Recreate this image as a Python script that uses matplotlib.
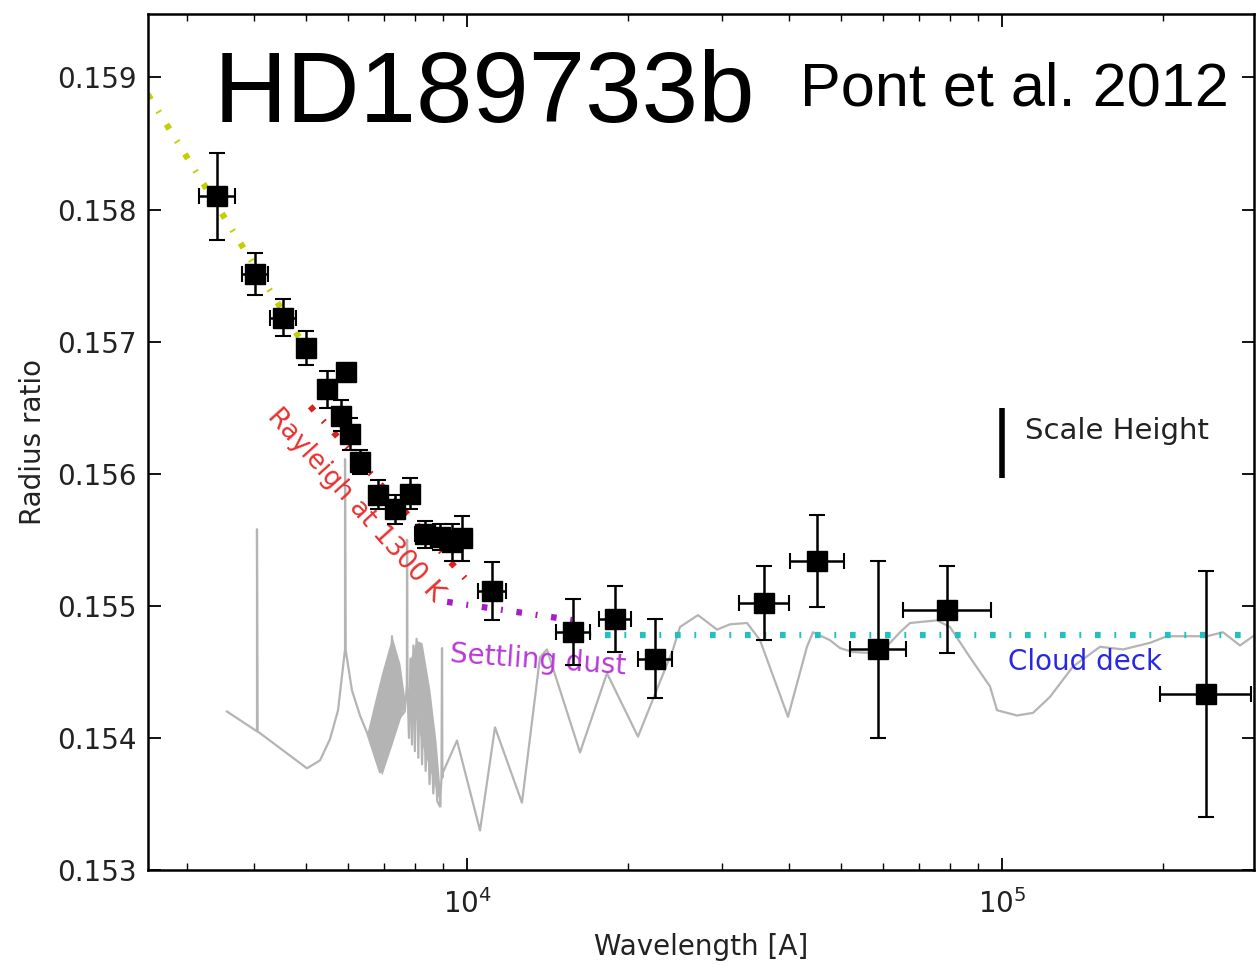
import matplotlib
matplotlib.use('Agg')
import matplotlib.pyplot as plt
import numpy as np

# measured transmission spectrum (wavelength in A, radius ratio)
wl = [3412, 4018, 4530, 4998, 5469, 5941, 5823, 6043, 6310, 6817, 7334, 7823,
      8345, 8904, 9376, 9797, 11137, 15781, 18924, 22439, 35891, 45080, 58620,
      78840, 240400]
rr = [0.15810, 0.15751, 0.15718, 0.15695, 0.15664, 0.15677, 0.15644, 0.15630,
      0.15609, 0.15584, 0.15573, 0.15585, 0.15554, 0.15552, 0.15548, 0.15551,
      0.15511, 0.15480, 0.15490, 0.15460, 0.15502, 0.15534, 0.15467, 0.15497,
      0.15433]
rr_err = [0.00033, 0.00016, 0.00014, 0.00013, 0.00014, 0.00005, 0.00012, 0.00012,
          0.00009, 0.00011, 0.00011, 0.00012, 0.00010, 0.00010, 0.00014, 0.00017,
          0.00022, 0.00025, 0.00025, 0.00030, 0.00028, 0.00035, 0.00067, 0.00033,
          0.00093]
wl_lo = [3158, 3799, 4283, 4998, 5469, 5941, 5823, 6043, 6310, 6817, 7334, 7823,
         7990, 8530, 8980, 9390, 10487, 14640, 17670, 20850, 32220, 40140, 51970,
         65260, 197700]
wl_hi = [3687, 4249, 4791, 4998, 5469, 5941, 5823, 6043, 6310, 6817, 7334, 7823,
         8710, 9290, 9790, 10220, 11827, 17010, 20270, 24150, 39980, 50620, 66120,
         95240, 292300]

# model spectrum (grey)
spec_wl = [3559, 4050, 4050, 4060, 5022, 5312, 5544, 5741, 5916, 5916, 5930,
           6095, 6310, 6504, 6877,
           6920, 6960, 7000, 7040, 7080, 7120, 7160, 7200, 7241, 7280, 7330, 7380,
           7430, 7480, 7650, 7720, 7726, 7740,
           7790, 7840, 7890, 7940, 7990, 8050, 8110, 8170, 8241, 8300, 8370, 8440,
           8510, 8580, 8650, 8720, 8800, 8901, 8960, 8981, 8995,
           9018, 9579, 10576, 11281, 12669, 13690, 14109, 16265, 18267, 20873,
           24266, 25010, 27025, 29330, 31014, 33376, 35295, 39811, 43200, 44330,
           47700, 49800, 52660, 59160, 64480, 67300, 75590, 79930, 87120, 94970,
           97880, 106700, 114300, 122900, 135700, 152500, 168400, 189100, 203400,
           241600, 258900, 278600, 294600]
spec_rr = [0.15420, 0.15405, 0.15558, 0.15405, 0.15377, 0.15383, 0.15399, 0.15421,
           0.15467, 0.15611, 0.15467, 0.15436, 0.15417, 0.15404, 0.15374,
           0.15410, 0.15382, 0.15425, 0.15390, 0.15440, 0.15395, 0.15455, 0.15405,
           0.15477, 0.15410, 0.15460, 0.15420, 0.15440, 0.15415, 0.15420, 0.15440,
           0.15550, 0.15440,
           0.15400, 0.15460, 0.15395, 0.15470, 0.15390, 0.15475, 0.15385, 0.15460,
           0.15380, 0.15440, 0.15375, 0.15420, 0.15365, 0.15400, 0.15358, 0.15385,
           0.15352, 0.15348, 0.15370, 0.15468, 0.15370,
           0.15374, 0.15398, 0.15330, 0.15408, 0.15351, 0.15461, 0.15467, 0.15389,
           0.15449, 0.15401, 0.15467, 0.15484, 0.15493, 0.15482, 0.15486, 0.15487,
           0.15474, 0.15416, 0.15469, 0.15480, 0.15474, 0.15468, 0.15465, 0.15464,
           0.15480, 0.15487, 0.15489, 0.15484, 0.15461, 0.15439, 0.15421, 0.15417,
           0.15419, 0.15431, 0.15454, 0.15469, 0.15467, 0.15472, 0.15477, 0.15477,
           0.15480, 0.15470, 0.15477]

# dense line forests in the model spectrum (upper / lower envelopes)
forest1_wl = [6504, 6730, 6934, 7241, 7496, 7657]
forest1_hi = [0.15404, 0.15429, 0.15450, 0.15477, 0.15456, 0.15429]
forest1_lo = [0.15404, 0.15383, 0.15372, 0.15395, 0.15414, 0.15425]
forest2_wl = [7822, 8033, 8241, 8527, 8750, 8940]
forest2_hi = [0.15459, 0.15474, 0.15472, 0.15436, 0.15398, 0.15353]
forest2_lo = [0.15429, 0.15414, 0.15395, 0.15376, 0.15361, 0.15347]

# model lines
ray_hot_wl, ray_hot_rr = [2533, 4998], [0.15887, 0.15695]
ray_wl, ray_rr = [5092, 9914], [0.15651, 0.15521]
dust_wl, dust_rr = [9180, 16490], [0.15503, 0.15488]
cloud_wl, cloud_rr = [15600, 295800], [0.15478, 0.15478]

scale_wl = 1.0e5
scale_rr = [0.15597, 0.15650]

fig = plt.figure(figsize=(12.58, 9.65), dpi=100)
ax = fig.add_axes([0.1176, 0.0984, 0.8792, 0.8871])

grey = '#b4b4b4'
ax.plot(spec_wl, spec_rr, color=grey, lw=1.6, zorder=1)
ax.fill_between(forest1_wl, forest1_lo, forest1_hi, color=grey, lw=0, zorder=1)
ax.fill_between(forest2_wl, forest2_lo, forest2_hi, color=grey, lw=0, zorder=1)

dash = (0, (0.9, 2.2, 0.3, 2.2))
ax.plot(ray_hot_wl, ray_hot_rr, color='#c2d000', lw=4.5, linestyle=dash, zorder=2)
ax.plot(ray_wl, ray_rr, color='#e02020', lw=4.5, linestyle=dash, zorder=2)
ax.plot(dust_wl, dust_rr, color='#a81cc8', lw=4.5, linestyle=dash, zorder=2)
ax.plot(cloud_wl, cloud_rr, color='#22c0c0', lw=4.5, linestyle=dash, zorder=2)

ax.text(6176, 0.155765, 'Rayleigh at 1300 K', color='#e83030', fontsize=19,
        rotation=-48, ha='center', va='center', rotation_mode='anchor', zorder=3)
ax.text(13571, 0.154591, 'Settling dust', color='#b83ad8', fontsize=20,
        rotation=-4, ha='center', va='center', rotation_mode='anchor', zorder=3)
ax.text(142900, 0.154576, 'Cloud deck', color='#2828e0', fontsize=20,
        ha='center', va='center', zorder=3)

ax.plot([scale_wl, scale_wl], scale_rr, color='black', lw=4, solid_capstyle='butt')
ax.text(110400, 0.15632, 'Scale Height', color='#222222', fontsize=21,
        ha='left', va='center')

wl_a = np.array(wl)
xerr = [wl_a - np.array(wl_lo), np.array(wl_hi) - wl_a]
ax.errorbar(wl, rr, yerr=rr_err, xerr=xerr, fmt='s', color='black', ms=15,
            elinewidth=1.8, capsize=5.5, capthick=1.5, zorder=4)

ax.set_xscale('log')
ax.set_xlim(2533, 295800)
ax.set_ylim(0.153, 0.15948)
ax.set_yticks(np.arange(0.153, 0.1595, 0.001))
ax.yaxis.set_major_formatter(matplotlib.ticker.FormatStrFormatter('%.3f'))
ax.tick_params(which='both', direction='in', top=True, right=True,
               labelsize=20, labelcolor='#222222')
ax.tick_params(axis='y', pad=8)
ax.tick_params(axis='x', pad=14)
ax.tick_params(which='major', length=9, width=1.3)
ax.tick_params(which='minor', length=5, width=1.0)
for s in ax.spines.values():
    s.set_linewidth(1.8)

ax.set_xlabel('Wavelength [A]', fontsize=20, color='#222222', labelpad=10)
ax.set_ylabel('Radius ratio', fontsize=20, color='#222222', labelpad=7)

fig.text(0.1701, 0.8736, 'HD189733b', fontsize=73, family='Liberation Sans',
         ha='left', va='baseline')
fig.text(0.636, 0.8902, 'Pont et al. 2012', fontsize=44, family='Liberation Sans',
         ha='left', va='baseline')

fig.savefig('out.png', dpi=100)
